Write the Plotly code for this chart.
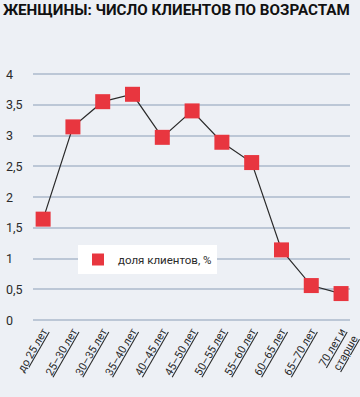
import plotly.graph_objects as go

categories = ["до 25 лет", "25–30 лет", "30–35 лет", "35–40 лет", "40–45 лет", "45–50 лет",
              "50–55 лет", "55–60 лет", "60–65 лет", "65–70 лет", "70 лет и<br>старше"]
share = [1.64, 3.14, 3.55, 3.67, 2.97, 3.40, 2.89, 2.56, 1.14, 0.56, 0.43]
y_ticks = [0, 0.5, 1, 1.5, 2, 2.5, 3, 3.5, 4]
y_ticktext = ["0", "0,5", "1", "1,5", "2", "2,5", "3", "3,5", "4"]
series_name = "доля клиентов, %"
title = "ЖЕНЩИНЫ: ЧИСЛО КЛИЕНТОВ ПО ВОЗРАСТАМ"

RED = "#E8363F"
BG = "#EDF0F5"
GRID = "#BCC7D6"
TXT = "#2b2b2b"
FONT = "Roboto"

x_idx = list(range(len(categories)))

fig = go.Figure()
fig.add_trace(go.Scatter(
    x=x_idx, y=share, mode="lines+markers",
    line=dict(color="#2a2a2a", width=1.2),
    marker=dict(symbol="square", size=15, color=RED),
    showlegend=False, hoverinfo="skip", cliponaxis=False))
fig.add_trace(go.Scatter(
    x=[None], y=[None], mode="markers", name=series_name,
    marker=dict(symbol="square", size=12, color=RED)))

for v, t in zip(y_ticks, y_ticktext):
    fig.add_annotation(x=-0.09, xref="paper", y=v, yref="y", text=t,
                       showarrow=False, xanchor="left", yanchor="middle",
                       font=dict(family=FONT, size=12.5, color=TXT))

fig.update_layout(
    width=360, height=397,
    margin=dict(l=33, r=10, t=72, b=75, pad=0),
    paper_bgcolor=BG, plot_bgcolor=BG,
    font=dict(family=FONT, color=TXT),
    title=dict(text="<b>" + title + "</b>",
               x=0.008, xref="container", xanchor="left",
               y=0.99, yref="container", yanchor="top",
               font=dict(family="Roboto", size=15.2, color="#111")),
    xaxis=dict(range=[-0.34, 10.3], tickmode="array", tickvals=x_idx,
               ticktext=["<u>" + c + "</u>" for c in categories],
               tickangle=-60, tickfont=dict(size=11, color=TXT), automargin=False,
               ticklabeloverflow="allow",
               showgrid=False, zeroline=False, showline=False, ticks=""),
    yaxis=dict(range=[-0.0325, 4.0325], tickvals=y_ticks, showticklabels=False,
               showgrid=True, gridcolor=GRID, gridwidth=1.5, zeroline=False,
               showline=False, ticks="", automargin=False),
    legend=dict(x=0.142, y=0.308, xanchor="left", yanchor="top",
                bgcolor="white", borderwidth=0,
                font=dict(family=FONT, size=11.5, color=TXT),
                itemwidth=30),
)

fig.write_html("out.html", config={"displayModeBar": False},
               post_script="document.body.style.margin='0';")
